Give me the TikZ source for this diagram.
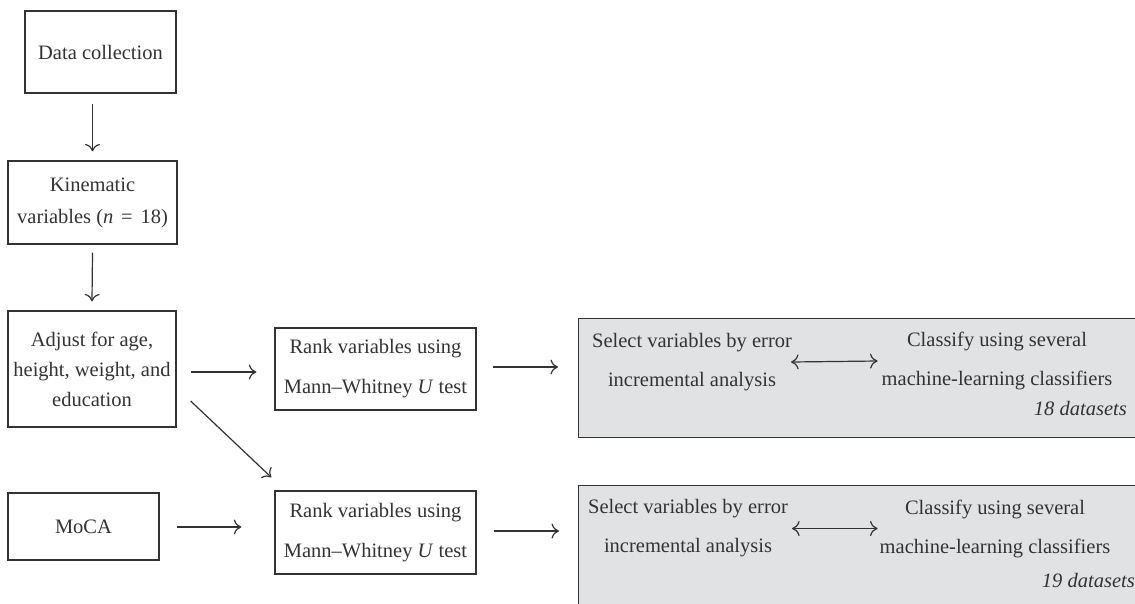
\documentclass[tikz,border=0pt]{standalone}
\usepackage{fontspec}
\setmainfont{Liberation Serif}
\usetikzlibrary{arrows.meta,calc}
\definecolor{ink}{HTML}{333333}
\definecolor{greyfill}{HTML}{E1E2E4}
\begin{document}
\begin{tikzpicture}[x=1pt,y=-1pt,
  box/.style={draw=ink, line width=1.3pt, text=ink, align=center, inner sep=0pt},
  greybox/.style={draw=ink, fill=greyfill, line width=1.3pt, inner sep=0pt},
  txt/.style={text=ink, align=center, inner sep=0pt},
  fs/.style={font=\fontsize{20.5}{#1}\selectfont},
  arr/.style={draw=ink, line width=1.2pt, -{To[length=7.5pt,width=15pt]}},
  darr/.style={draw=ink, line width=1.2pt, {To[length=7.5pt,width=15pt]}-{To[length=7.5pt,width=15pt]}}]
\useasboundingbox (0,0) rectangle (1135,603);
% grey panels
\node[greybox, anchor=north west, minimum width=570pt, minimum height=119pt] (g1) at (578,318) {};
\node[greybox, anchor=north west, minimum width=570pt, minimum height=130pt] (g2) at (578,485) {};
% boxes
\node[box, fs=30, minimum width=151pt, minimum height=82pt] (data) at (100.5,52) {Data collection};
\node[box, fs=32, minimum width=169pt, minimum height=83pt] (kin) at (92.5,202.5) {Kinematic\\variables (\textit{n}\hspace{0.38em}=\hspace{0.38em}18)};
\node[box, fs=30, minimum width=168pt, minimum height=116pt] (adj) at (92,369) {Adjust for age,\\height, weight, and\\education};
\node[box, fs=40, minimum width=201pt, minimum height=82pt] (r1) at (375.5,369) {Rank variables using\\Mann–Whitney \textit{U} test};
\node[box, fs=30, minimum width=151pt, minimum height=67pt] (moca) at (83.5,526.5) {MoCA};
\node[box, fs=40, minimum width=201pt, minimum height=83pt] (r2) at (375.5,532.5) {Rank variables using\\Mann–Whitney \textit{U} test};
% panel texts
\node[txt, fs=39] (sel1) at (692,362) {Select variables by error\\incremental analysis};
\node[txt, fs=39] (cls1) at (997,361) {Classify using several\\machine-learning classifiers};
\node[txt, fs=30, anchor=east] (ds1) at (1127,408) {\itshape 18 datasets};
\node[txt, fs=39] (sel2) at (688,528.5) {Select variables by error\\incremental analysis};
\node[txt, fs=39] (cls2) at (995,528.5) {Classify using several\\machine-learning classifiers};
\node[txt, fs=30, anchor=east] (ds2) at (1135,580) {\itshape 19 datasets};
% connectors
\draw[arr] ($(data.south -| kin.north)+(0,10)$) -- ($(kin.north)+(0,-9)$);
\draw[arr] ($(kin.south)+(0,8)$) -- ($(adj.north)+(0,-9)$);
\draw[arr] ($(adj.east)+(14,3)$) -- ($(adj.east -| r1.west)+(-18,3)$);
\draw[arr] ($(adj.east)+(14,32)$) -- ($(r2.north west)+(-3,-13)$);
\draw[arr] ($(moca.east)+(17,0.5)$) -- ($(moca.east -| r2.west)+(-33,0.5)$);
\draw[arr] ($(r1.east)+(16,-2)$) -- ($(r1.east -| g1.west)+(-20,-2)$);
\draw[arr] ($(r2.east)+(17,-1.5)$) -- ($(r2.east -| g2.west)+(-19,-1.5)$);
\draw[darr] ([xshift=-1pt]sel1.east) -- ([xshift=-4pt]cls1.west);
\draw[darr] ([xshift=4pt]sel2.east) -- ([xshift=-2pt]cls2.west);
\end{tikzpicture}
\end{document}
